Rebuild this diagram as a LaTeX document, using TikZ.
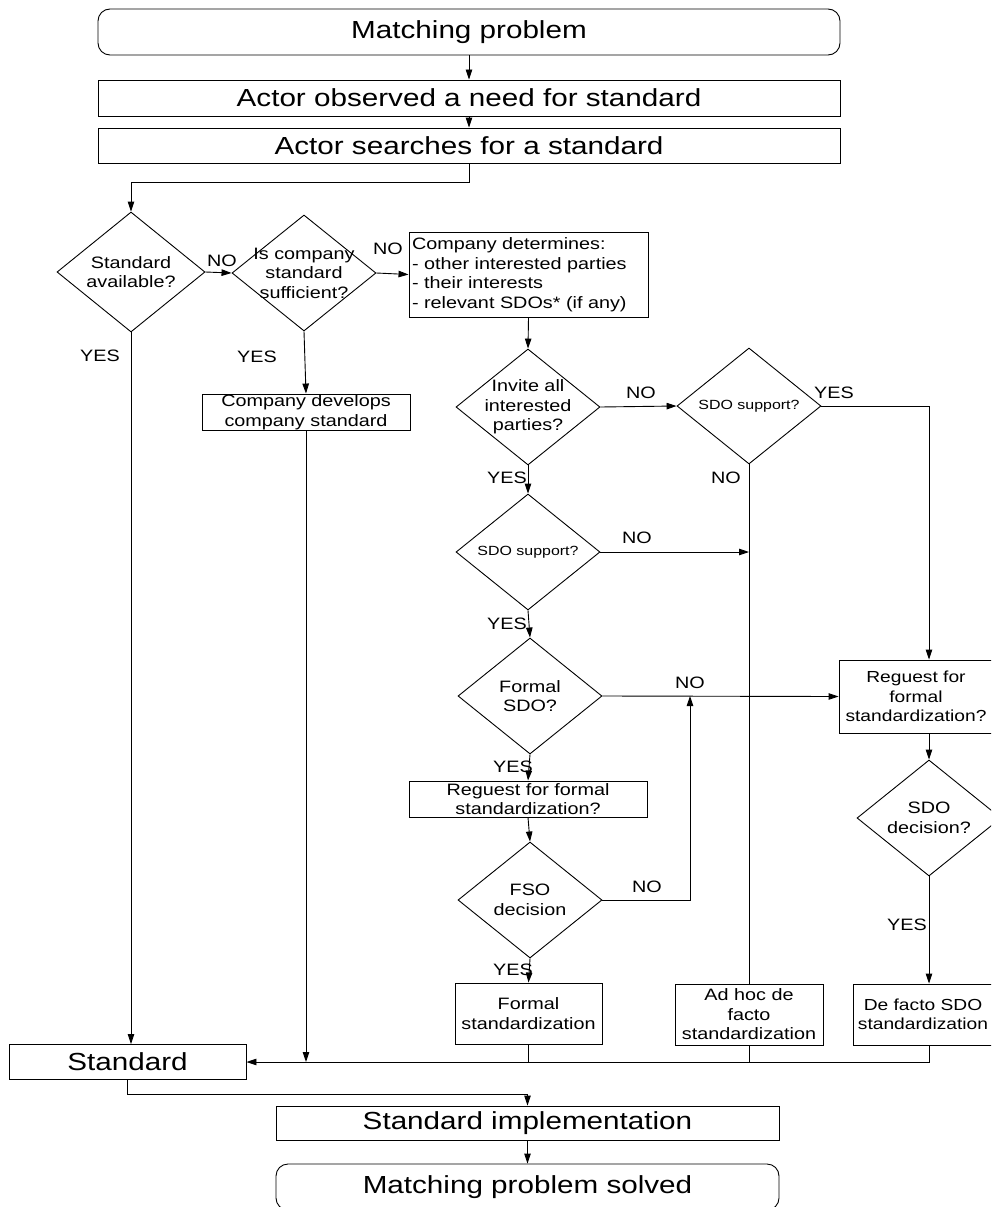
\documentclass[tikz,border=0pt]{standalone}
\usepackage{fontspec}
\setmainfont{Liberation Sans}[FakeStretch=1.2]
\usetikzlibrary{arrows.meta, shapes.geometric}
\newcommand{\fbig}{\fontsize{24.7}{29}\selectfont}
\newcommand{\fmid}{\fontsize{16.5}{19.5}\selectfont}
\newcommand{\fedge}{\fontsize{16}{19.5}\selectfont}
\newcommand{\fsmall}{\fontsize{13.3}{16}\selectfont}

\begin{document}
\begin{tikzpicture}[x=1pt, y=-1pt, line width=0.9pt,
    box/.style={draw, rectangle, inner sep=0pt, align=center, font=\fmid},
    bigbox/.style={box, font=\fbig},
    endbox/.style={bigbox, rounded corners=12pt},
    decision/.style={draw, diamond, inner sep=0pt, minimum width=144pt, minimum height=116pt},
    dtext/.style={align=center, inner sep=0pt, font=\fmid},
    yesno/.style={inner sep=0pt, font=\fmid},
    arr/.style={-{Triangle[length=10pt,width=6.5pt]}}]
    \useasboundingbox (0,0) rectangle (991,1207);
    \clip (0,0) rectangle (991,1207);

    % Top of the chart
    \node[endbox, minimum width=742pt, minimum height=46pt] (mp) at (469,32) {Matching problem};
    \node[bigbox, minimum width=742pt, minimum height=36pt] (need) at (469,98) {Actor observed a need for standard};
    \node[bigbox, minimum width=742pt, minimum height=35pt] (search) at (469,145.5) {Actor searches for a standard};

    % First decisions
    \node[decision, minimum width=148pt, minimum height=120pt,
        label={[dtext]center:{Standard\\available?}}] (d1) at (131,272) {};
    \node[decision, label={[dtext]center:{Is company\\standard\\sufficient?}}] (d2) at (304,273) {};
    \node[box, text width=233pt, align=left, inner sep=3pt, minimum height=85pt] (det) at (528.5,274.5)
        {Company determines:\\- other interested parties\\- their interests\\- relevant SDOs* (if any)};
    \node[box, minimum width=208pt, minimum height=36pt] (dev) at (306,412) {Company develops\\company standard};

    % Middle column
    \node[decision, label={[dtext]center:{Invite all\\interested\\parties?}}] (d3) at (528,407) {};
    \node[decision, label={[dtext, font=\fsmall]center:{SDO support?}}] (d5) at (528,552) {};
    \node[decision, label={[dtext]center:{Formal\\SDO?}}] (d6) at (530,696) {};
    \node[box, minimum width=238pt, minimum height=36pt] (reqL) at (528,799) {Reguest for formal\\standardization?};
    \node[decision, label={[dtext]center:{FSO\\decision}}] (d7) at (530,900) {};
    \node[box, minimum width=147pt, minimum height=61pt] (formal) at (528.5,1013.5) {Formal\\standardization};

    % Right columns
    \node[decision, label={[dtext, font=\fsmall]center:{SDO support?}}] (d4) at (749,406) {};
    \node[box, minimum width=148pt, minimum height=61pt] (adhoc) at (749,1014.5) {Ad hoc de\\facto\\standardization};
    \node[box, font=\fedge, minimum width=154pt, minimum height=73pt] (reqR) at (916,696.5) {Reguest for\\formal\\standardization?};
    \node[decision, label={[dtext]center:{SDO\\decision?}}] (d8) at (929,818) {};
    \node[box, font=\fedge, minimum width=140pt, minimum height=61pt] (defacto) at (923,1014.5) {De facto SDO\\standardization};

    % Bottom of the chart
    \node[bigbox, minimum width=237pt, minimum height=35pt] (std) at (127.5,1062) {Standard};
    \node[bigbox, minimum width=503pt, minimum height=34pt] (impl) at (527.5,1123) {Standard implementation};
    \node[endbox, minimum width=503pt, minimum height=46pt] (solved) at (527.5,1187) {Matching problem solved};

    % Connectors
    \coordinate (rcol) at (929,0);
    \coordinate (back) at (690,696);
    \draw[arr] (mp.south) -- (need.north);
    \draw[arr] (need.south) -- (search.north);
    \draw[arr] (search.south) -- ++(0,19) -| (d1.north);
    \draw[arr] (d1.east) -- (d2.west);
    \draw[arr] (d2.east) -- (det.west);
    \draw[arr] (d1.south) -- (d1.south |- std.north);
    \draw[arr] (d2.south) -- (dev.north);
    \draw[arr] (dev.south) -- (dev.south |- std.east);
    \draw[arr] (det.south) -- (d3.north);
    \draw[arr] (d3.east) -- (d4.west);
    \draw[arr] (d4.east) -| (rcol |- reqR.north);
    \draw (d4.south) -- (adhoc.north);
    \draw[arr] (d3.south) -- (d5.north);
    \draw[arr] (d5.east) -- (d5.east -| d4.south);
    \draw[arr] (d5.south) -- (d6.north);
    \draw[arr] (d6.east) -- (reqR.west);
    \draw[arr] (d6.south) -- (reqL.north);
    \draw[arr] (reqL.south) -- (d7.north);
    \draw[arr] (d7.east) -| (back);
    \draw[arr] (d7.south) -- (formal.north);
    \draw[arr] (rcol |- reqR.south) -- (d8.north);
    \draw[arr] (d8.south) -- (d8.south |- defacto.north);
    \draw[arr] (rcol |- defacto.south) |- (std.east);
    \draw (formal.south) -- (formal.south |- std.east);
    \draw (adhoc.south) -- (adhoc.south |- std.east);
    \draw[arr] (std.south) -- ++(0,14) -| (impl.north);
    \draw[arr] (impl.south) -- (solved.north);

    % Yes / no labels
    \node[yesno] (no1) at (222,261) {NO};
    \node[yesno] (no2) at (388,249) {NO};
    \node[yesno] (yes1) at (100,356) {YES};
    \node[yesno] (yes2) at (257,357) {YES};
    \node[yesno] (no3) at (641,393) {NO};
    \node[yesno] (yes3) at (834,393) {YES};
    \node[yesno] (yes4) at (507,478) {YES};
    \node[yesno] (no4) at (726,478) {NO};
    \node[yesno] (no5) at (637,538) {NO};
    \node[yesno] (yes5) at (507,624) {YES};
    \node[yesno] (no6) at (690,683) {NO};
    \node[yesno] (yes6) at (513,767) {YES};
    \node[yesno] (no7) at (647,887) {NO};
    \node[yesno] (yes7) at (513,970) {YES};
    \node[yesno] (yes8) at (907,925) {YES};
\end{tikzpicture}
\end{document}
